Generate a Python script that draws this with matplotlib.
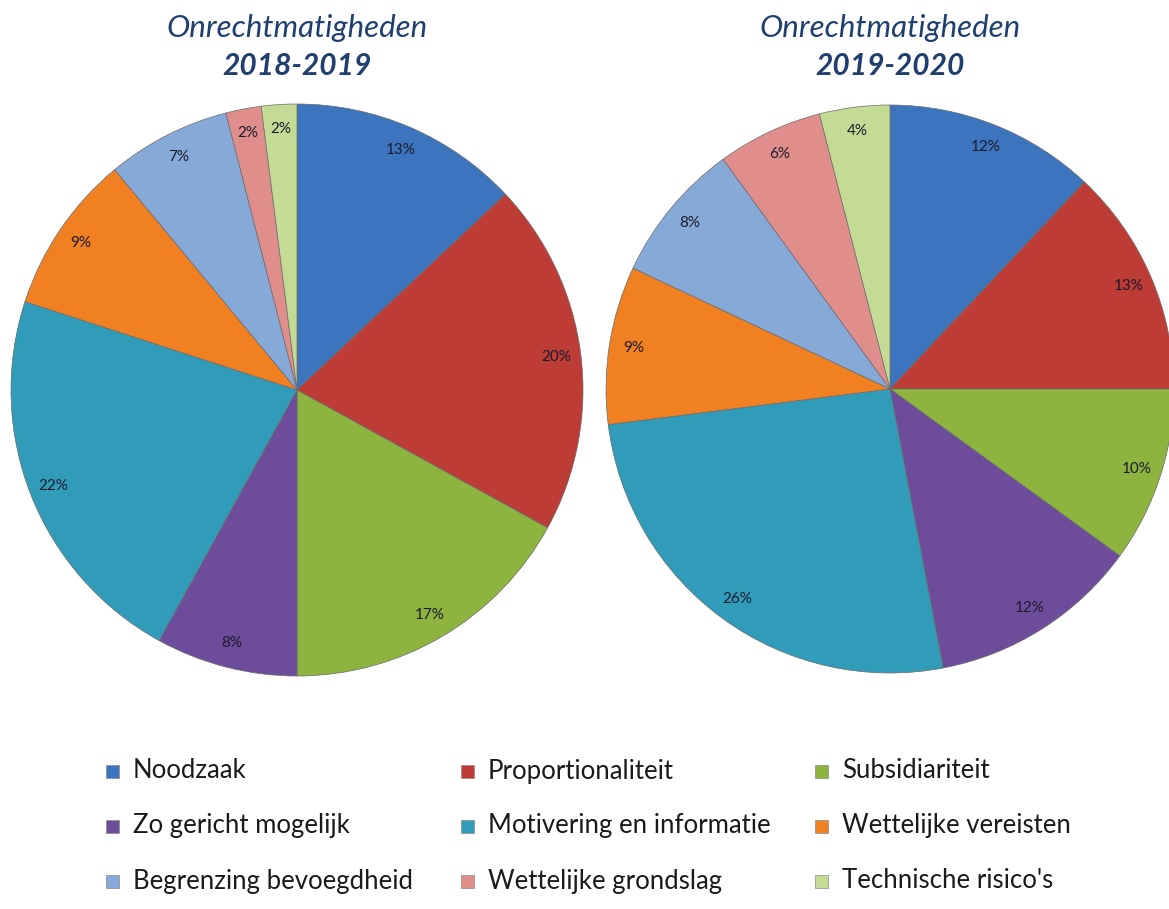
import matplotlib
matplotlib.use("Agg")
import matplotlib.pyplot as plt
from matplotlib.patches import Rectangle

plt.rcParams['font.family'] = ['Lato', 'DejaVu Sans']

categories = ["Noodzaak", "Proportionaliteit", "Subsidiariteit",
              "Zo gericht mogelijk", "Motivering en informatie", "Wettelijke vereisten",
              "Begrenzing bevoegdheid", "Wettelijke grondslag", "Technische risico's"]
pct_2018 = [13, 20, 17, 8, 22, 9, 7, 2, 2]
pct_2020 = [12, 13, 10, 12, 26, 9, 8, 6, 4]
years = ["2018-2019", "2019-2020"]

colors = ["#3C75BE", "#BE3C36", "#8CB43F", "#6E4C9C", "#309CBA",
          "#F08022", "#87A9D8", "#E08E8C", "#C4DB96"]
title_col = "#1F3F6E"

W, H = 1169, 909
fig = plt.figure(figsize=(W / 100, H / 100), dpi=100)

# pie boxes in pixels: center x, center y (from top), radius
boxes = [(297, 390, 286), (890, 389, 284)]

for (cx, cy, r), vals, yr in zip(boxes, [pct_2018, pct_2020], years):
    ax = fig.add_axes([(cx - r) / W, (H - cy - r) / H, 2 * r / W, 2 * r / H])
    wedges, texts = ax.pie(vals, colors=colors, startangle=90, counterclock=False,
                           labels=[f"{v}%" for v in vals], labeldistance=0.915,
                           wedgeprops=dict(edgecolor="#6a6a6a", linewidth=0.5),
                           textprops=dict(fontsize=11, color="#1b1b2b"))
    for t in texts:
        t.set_horizontalalignment("center")
        t.set_verticalalignment("center")
    ax.set_xlim(-1, 1)
    ax.set_ylim(-1, 1)
    ax.set_aspect("equal")
    ax.axis("off")
    for w in wedges:
        w.set_clip_on(False)
    fig.text(cx / W, 1 - 28 / H, "Onrechtmatigheden", ha="center", va="center",
             fontsize=22.5, style="italic", color=title_col)
    fig.text(cx / W, 1 - 66 / H, yr, ha="center", va="center",
             fontsize=21.5, style="italic", fontweight="bold", color=title_col)

# legend, 3 columns
col_x = [112, 467, 821]
row_y = [771, 826, 881]
for i, (cat, c) in enumerate(zip(categories, colors)):
    x = col_x[i % 3]
    y = row_y[i // 3]
    s = 13
    fig.patches.append(Rectangle(((x - s / 2) / W, (H - y - s / 2) / H), s / W, s / H,
                                 transform=fig.transFigure, facecolor=c,
                                 edgecolor="#8a8a8a", linewidth=0.5))
    fig.text((x + 21) / W, 1 - y / H, cat, ha="left", va="center",
             fontsize=18.5, color="#1a1a1a")

fig.savefig("out.png", dpi=100)
